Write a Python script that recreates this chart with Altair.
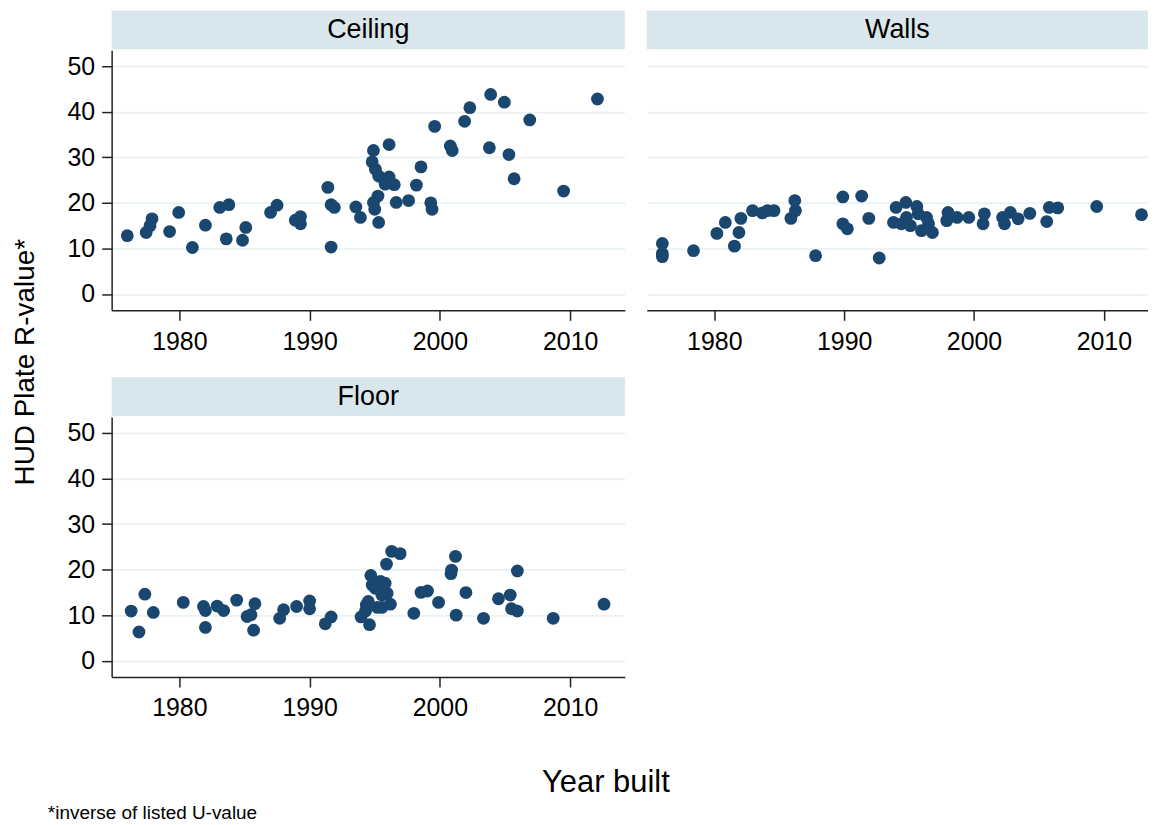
import altair as alt
import pandas as pd

# ---------------- data ----------------
ceiling_year = [1976.0, 1977.45, 1977.75, 1977.9, 1979.25, 1979.95, 1981.0, 1982.0, 1983.1, 1983.8,
                1983.6, 1984.85, 1985.1, 1987.0, 1987.5, 1988.9, 1989.3, 1989.3, 1991.4, 1991.65,
                1991.9, 1991.65, 1993.55, 1993.9, 1994.9, 1994.8, 1995.05, 1995.3, 1995.7, 1996.1,
                1996.1, 1995.8, 1996.5, 1995.25, 1994.9, 1995.0, 1995.3, 1996.65, 1997.6, 1998.2,
                1998.55, 1999.3, 1999.4, 1999.6, 2000.8, 2000.95, 2001.9, 2002.3, 2003.9, 2003.8,
                2004.95, 2005.3, 2005.7, 2006.9, 2009.5, 2012.1]
ceiling_r = [12.8, 13.5, 15.0, 16.5, 13.7, 17.9, 10.2, 15.1, 19.0, 19.6,
             12.1, 11.8, 14.6, 17.9, 19.5, 16.2, 17.0, 15.4, 23.4, 19.6,
             19.0, 10.3, 19.1, 16.8, 31.5, 29.0, 27.4, 25.9, 25.2, 25.7,
             32.8, 24.1, 24.0, 21.5, 20.1, 18.6, 15.7, 20.1, 20.5, 23.9,
             27.9, 20.0, 18.6, 36.8, 32.5, 31.5, 37.9, 40.9, 43.8, 32.1,
             42.1, 30.6, 25.3, 38.2, 22.6, 42.8]

walls_year = [1976.0, 1976.0, 1976.0, 1978.4, 1980.2, 1980.85, 1981.55, 1981.9, 1982.05, 1982.95,
              1983.7, 1984.1, 1984.6, 1986.2, 1986.25, 1985.9, 1987.8, 1989.9, 1989.9, 1990.25,
              1991.35, 1991.9, 1992.7, 1994.0, 1993.8, 1994.75, 1995.6, 1994.8, 1994.4, 1995.1,
              1995.7, 1996.35, 1995.95, 1996.5, 1996.8, 1998.0, 1997.9, 1998.7, 1999.6, 2000.8,
              2000.7, 2002.2, 2002.35, 2002.8, 2003.4, 2004.3, 2005.6, 2005.8, 2006.45, 2009.45,
              2012.9]
walls_r = [11.1, 8.9, 8.2, 9.5, 13.3, 15.7, 10.5, 13.5, 16.6, 18.3,
           17.8, 18.3, 18.3, 20.5, 18.3, 16.6, 8.4, 21.3, 15.4, 14.3,
           21.5, 16.6, 7.9, 19.0, 15.7, 20.1, 19.2, 16.8, 15.4, 15.0,
           17.6, 16.8, 13.9, 15.4, 13.5, 17.9, 16.1, 16.8, 16.8, 17.6,
           15.4, 16.8, 15.4, 17.9, 16.5, 17.7, 15.9, 19.0, 18.9, 19.2,
           17.4]

floor_year = [1976.3, 1976.9, 1977.35, 1978.0, 1980.3, 1981.85, 1982.0, 1982.0, 1982.9, 1983.4,
              1984.4, 1985.2, 1985.5, 1985.8, 1985.7, 1987.7, 1988.0, 1989.0, 1990.0, 1990.0,
              1991.2, 1991.65, 1993.95, 1994.35, 1994.3, 1994.6, 1994.7, 1994.8, 1995.2, 1994.5,
              1995.45, 1995.8, 1995.9, 1996.3, 1996.95, 1995.55, 1995.95, 1995.55, 1996.2, 1995.05,
              1998.0, 1998.55, 1999.05, 1999.9, 2001.2, 2000.9, 2000.85, 2001.25, 2002.0, 2003.35,
              2004.5, 2005.4, 2005.5, 2005.95, 2005.95, 2008.7, 2012.6]
floor_r = [10.9, 6.3, 14.6, 10.6, 12.8, 11.9, 11.0, 7.3, 12.0, 11.0,
           13.3, 9.7, 10.1, 12.5, 6.7, 9.3, 11.2, 11.9, 13.1, 11.4,
           8.1, 9.6, 9.6, 12.2, 10.9, 7.9, 18.7, 16.6, 11.7, 13.0,
           17.4, 17.0, 21.2, 24.0, 23.5, 14.4, 14.8, 11.7, 12.4, 15.9,
           10.4, 15.0, 15.3, 12.8, 22.9, 19.9, 19.1, 10.0, 14.95, 9.3,
           13.6, 14.4, 11.4, 10.9, 19.7, 9.3, 12.4]

panel_labels = ["Ceiling", "Walls", "Floor"]
x_ticks = [1980, 1990, 2000, 2010]
y_ticks = [0, 10, 20, 30, 40, 50]
y_title = ["HUD Plate R-value*"]
x_title = ["Year built"]
footnote = ["*inverse of listed U-value"]

# ---------------- styling ----------------
FONT = "Liberation Sans"
NAVY = "#1a476f"
BAND = "#d9e6eb"
GRID = "#eaf2f3"
AXC = "#222222"
H = 261
Y_DOMAIN = [-3.6, 53.5]


def panel(years, rvals, label, width, xdomain, show_y):
    df = pd.DataFrame({"year": years, "r": rvals})
    xaxis = alt.Axis(values=x_ticks, format="d", title=None, grid=False, tickSize=10,
                     labelFontSize=25, labelPadding=9, labelFont=FONT, labelColor="black",
                     domainColor=AXC, tickColor=AXC, domainWidth=1.5, tickWidth=1.5)
    if show_y:
        yaxis = alt.Axis(values=y_ticks, title=None, grid=True, gridColor=GRID, gridWidth=1.8,
                         tickSize=10, labelFontSize=25, labelPadding=7, labelFont=FONT,
                         labelColor="black", domainColor=AXC, tickColor=AXC,
                         domainWidth=1.5, tickWidth=1.5)
    else:
        yaxis = alt.Axis(values=y_ticks, title=None, grid=True, gridColor=GRID, gridWidth=1.8,
                         labels=False, ticks=False, domain=False)
    pts = alt.Chart(df).mark_circle(size=165, color=NAVY, opacity=1).encode(
        x=alt.X("year:Q", scale=alt.Scale(domain=xdomain, nice=False, zero=False), axis=xaxis),
        y=alt.Y("r:Q", scale=alt.Scale(domain=Y_DOMAIN, nice=False, zero=False), axis=yaxis),
    )
    hdf = pd.DataFrame({"label": [label]})
    band = alt.Chart(hdf).mark_rect(color=BAND).encode(
        x=alt.value(0), x2=alt.value(width), y=alt.value(-40), y2=alt.value(-1))
    htxt = alt.Chart(hdf).mark_text(fontSize=27, font=FONT, color="black",
                                    baseline="middle", align="center").encode(
        x=alt.value(width / 2), y=alt.value(-20), text="label:N")
    return [band, htxt, pts]


cw = 515
ww = 503
c_layers = panel(ceiling_year, ceiling_r, panel_labels[0], cw, [1974.8, 2014.2], True)
w_layers = panel(walls_year, walls_r, panel_labels[1], ww, [1974.8, 2013.4], False)
f_layers = panel(floor_year, floor_r, panel_labels[2], cw, [1974.8, 2014.2], True)

ytitle = alt.Chart(pd.DataFrame({"t": y_title})).mark_text(
    fontSize=28, font=FONT, color="black", angle=270, align="center", baseline="middle"
).encode(x=alt.value(-86), y=alt.value(313), text="t:N")

xtitle = alt.Chart(pd.DataFrame({"t": x_title})).mark_text(
    fontSize=31, font=FONT, color="black", align="center", baseline="middle"
).encode(x=alt.value(496), y=alt.value(367), text="t:N")

foot = alt.Chart(pd.DataFrame({"t": footnote})).mark_text(
    fontSize=19, font=FONT, color="black", align="left", baseline="middle"
).encode(x=alt.value(-64), y=alt.value(397), text="t:N")

ceiling = alt.layer(*c_layers, ytitle).properties(width=cw, height=H)
walls = alt.layer(*w_layers).properties(width=ww, height=H)
floor = alt.layer(*f_layers, xtitle, foot).properties(width=cw, height=H)

chart = alt.concat(
    ceiling, walls, floor,
    columns=2,
    spacing=alt.RowColnumber(row=107, column=22),
    bounds="flush",
).properties(
    padding={"left": 4, "top": 1, "right": 0, "bottom": 0},
    background="white",
).configure_view(stroke=None)

chart.save("out.html", embed_options={"renderer": "svg", "actions": False})
